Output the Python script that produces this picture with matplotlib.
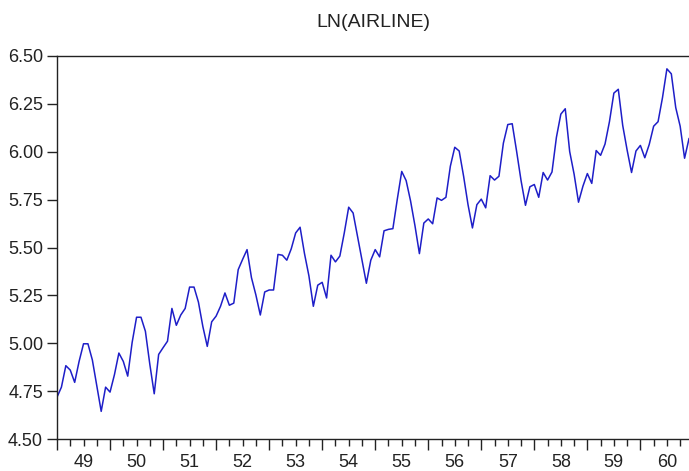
import numpy as np
import matplotlib.pyplot as plt
from matplotlib.ticker import FixedLocator, FixedFormatter

# monthly airline passengers 1949-1960 (thousands)
passengers = [
    112, 118, 132, 129, 121, 135, 148, 148, 136, 119, 104, 118,
    115, 126, 141, 135, 125, 149, 170, 170, 158, 133, 114, 140,
    145, 150, 178, 163, 172, 178, 199, 199, 184, 162, 146, 166,
    171, 180, 193, 181, 183, 218, 230, 242, 209, 191, 172, 194,
    196, 196, 236, 235, 229, 243, 264, 272, 237, 211, 180, 201,
    204, 188, 235, 227, 234, 264, 302, 293, 259, 229, 203, 229,
    242, 233, 267, 269, 270, 315, 364, 347, 312, 274, 237, 278,
    284, 277, 317, 313, 318, 374, 413, 405, 355, 306, 271, 306,
    315, 301, 356, 348, 355, 422, 465, 467, 404, 347, 305, 336,
    340, 318, 362, 348, 363, 435, 491, 505, 404, 359, 310, 337,
    360, 342, 406, 396, 420, 472, 548, 559, 463, 407, 362, 405,
    417, 391, 419, 461, 472, 535, 622, 606, 508, 461, 390, 432,
]
years = ['49', '50', '51', '52', '53', '54', '55', '56', '57', '58', '59', '60']
y_ticks = [4.50, 4.75, 5.00, 5.25, 5.50, 5.75, 6.00, 6.25, 6.50]

plt.rcParams['font.family'] = ['Liberation Sans', 'DejaVu Sans']

ln_air = np.log(passengers)
t = np.arange(len(ln_air))

fig = plt.figure(figsize=(6.89, 4.71), dpi=100)
ax = fig.add_axes([57 / 689, 32 / 471, 632 / 689, 383 / 471])

ax.plot(t, ln_air, color='#1e1ec8', linewidth=1.1)

ax.set_xlim(0, len(ln_air) - 1)
ax.set_ylim(4.5, 6.5)

# year boundaries as major ticks, quarters as minor ticks, year label mid-year
ax.xaxis.set_major_locator(FixedLocator([12 * i for i in range(len(years))]))
ax.xaxis.set_major_formatter(FixedFormatter([''] * len(years)))
minor_pos = [12 * i + q for i in range(len(years)) for q in (3, 6, 9)]
minor_lab = [years[i] if q == 6 else '' for i in range(len(years)) for q in (3, 6, 9)]
ax.xaxis.set_minor_locator(FixedLocator(minor_pos))
ax.xaxis.set_minor_formatter(FixedFormatter(minor_lab))

ax.set_yticks(y_ticks)
ax.set_yticklabels(['%.2f' % v for v in y_ticks])

ax.tick_params(axis='x', which='major', length=8, width=1, color='#222222')
ax.tick_params(axis='x', which='minor', length=5, width=1, color='#222222',
               labelsize=13, labelcolor='#222222', pad=6)
ax.tick_params(axis='y', length=7, width=1, color='#222222',
               labelsize=13, labelcolor='#222222', pad=3)

ax.spines['right'].set_visible(False)
for s in ('left', 'top', 'bottom'):
    ax.spines[s].set_color('#222222')
    ax.spines[s].set_linewidth(1.0)

ax.set_title('LN(AIRLINE)', fontsize=14, color='#222222', pad=21)

fig.savefig('out.png', dpi=100)
